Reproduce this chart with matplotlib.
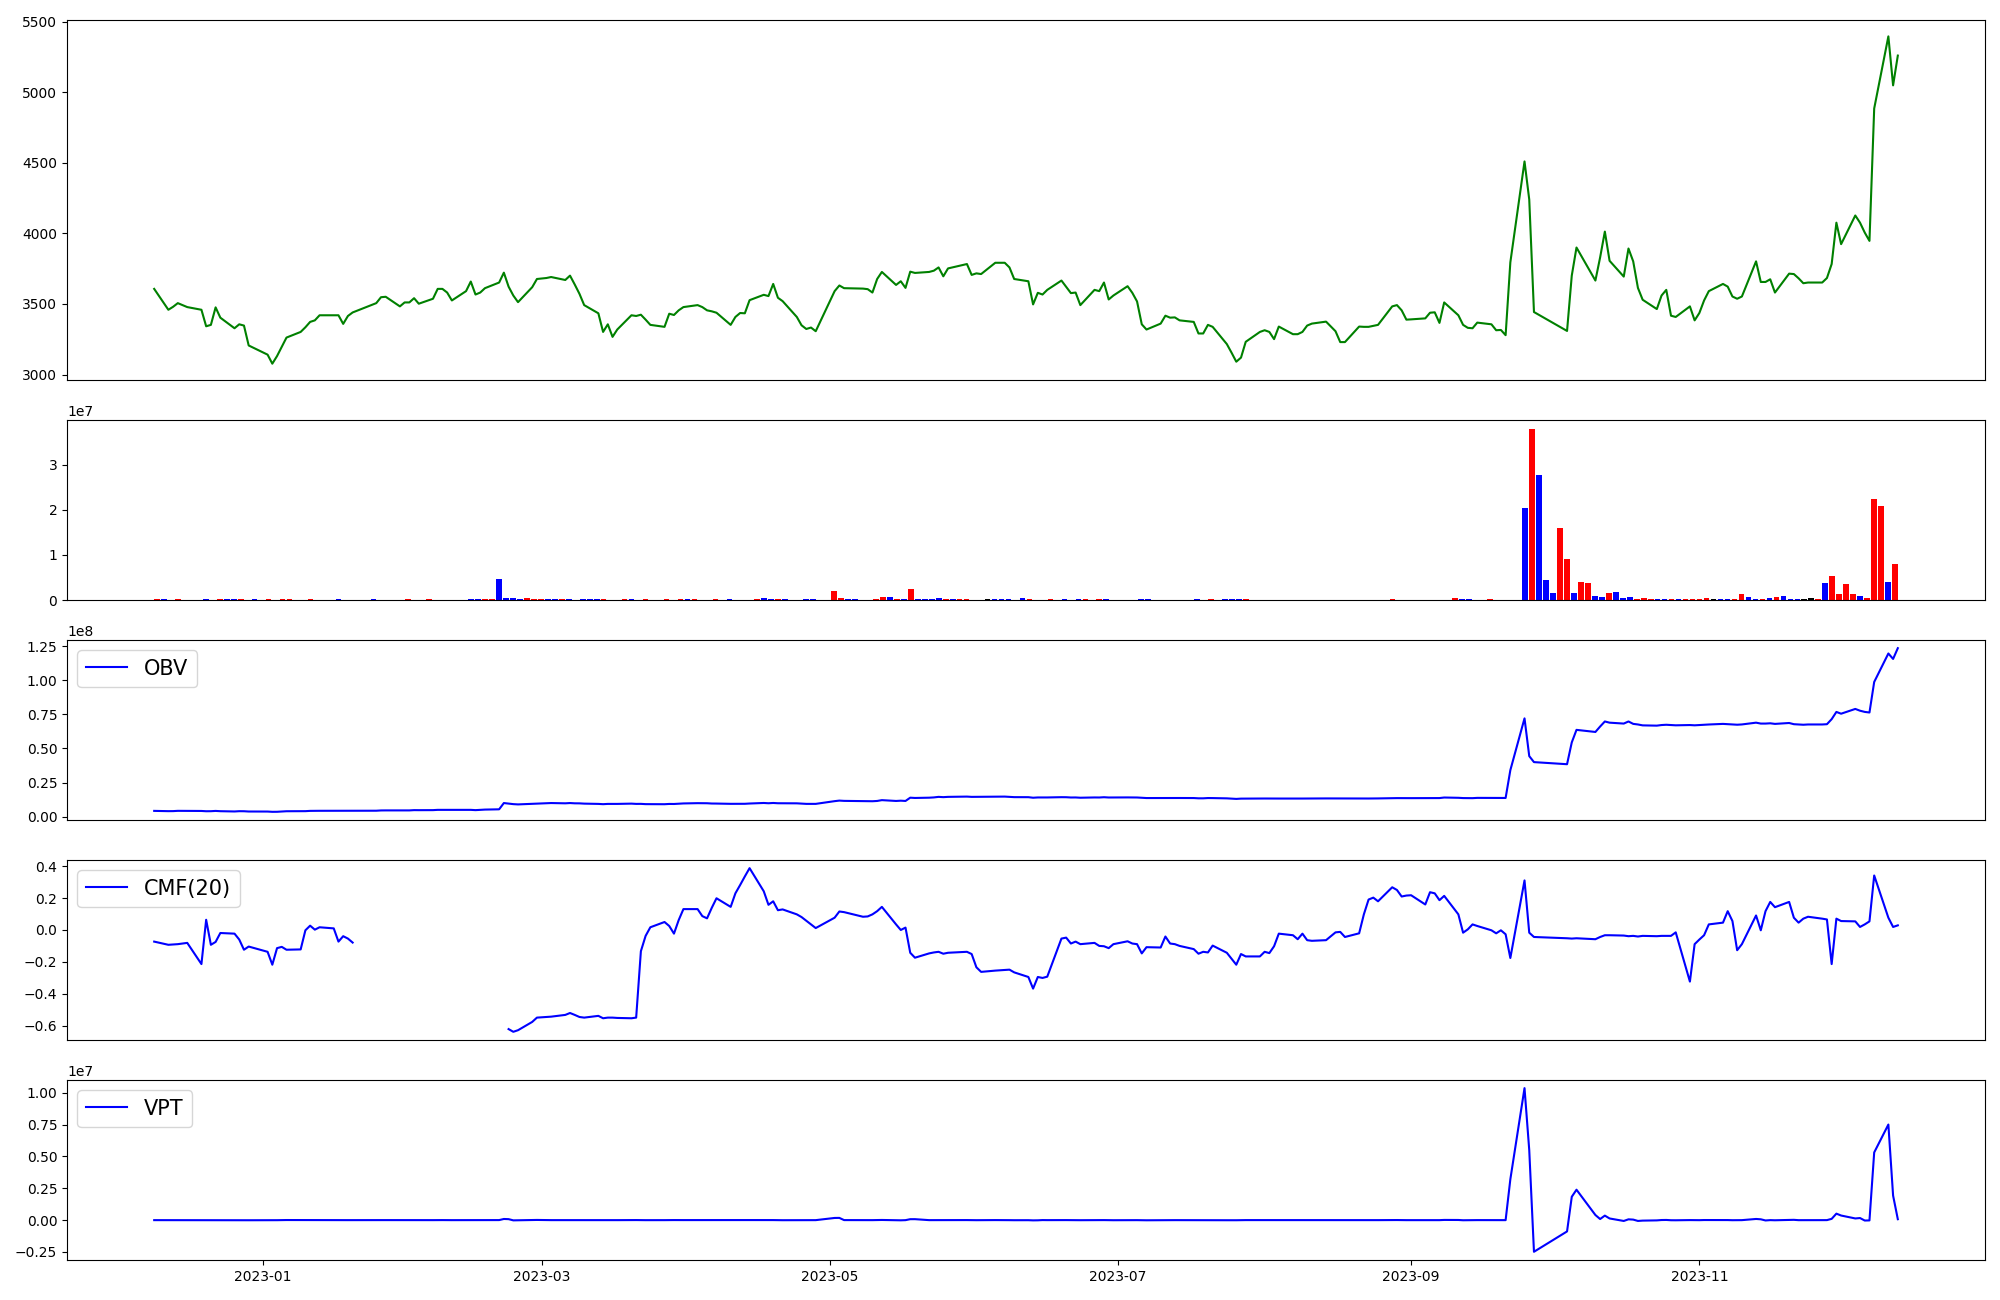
import numpy as np
import pandas as pd
import matplotlib
matplotlib.use("Agg")
import matplotlib.pyplot as plt

# ---------------- data ----------------
start_date = "2022-12-09"
end_date = "2023-12-13"
krx_holidays = ["2022-12-30", "2023-01-23", "2023-01-24", "2023-03-01", "2023-05-01",
                "2023-05-05", "2023-05-29", "2023-06-06", "2023-08-15", "2023-09-28",
                "2023-09-29", "2023-10-02", "2023-10-03", "2023-10-09"]

close = [
    3607, 3459, 3480, 3506, 3492, 3478, 3459, 3342, 3352, 3476,   # 0-9
    3403, 3328, 3356, 3347, 3206, 3141, 3077, 3131, 3197, 3262,   # 10-19
    3302, 3335, 3373, 3384, 3420, 3420, 3420, 3359, 3415, 3440,   # 20-29
    3506, 3548, 3551, 3483, 3511, 3511, 3541, 3502, 3537, 3607,   # 30-39
    3607, 3581, 3525, 3591, 3659, 3567, 3581, 3612, 3652, 3722,   # 40-49
    3623, 3560, 3513, 3619, 3677, 3684, 3691, 3670, 3701, 3638,   # 50-59
    3572, 3492, 3434, 3302, 3356, 3267, 3319, 3420, 3415, 3424,   # 60-69
    3389, 3352, 3338, 3431, 3422, 3455, 3478, 3492, 3478, 3455,   # 70-79
    3448, 3438, 3352, 3408, 3436, 3434, 3527, 3565, 3556, 3642,   # 80-89
    3544, 3520, 3408, 3349, 3323, 3333, 3307, 3591, 3631, 3612,   # 90-99
    3609, 3605, 3581, 3677, 3727, 3635, 3661, 3614, 3729, 3720,   # 100-109
    3727, 3736, 3759, 3696, 3752, 3783, 3706, 3717, 3712, 3792,   # 110-119
    3792, 3759, 3677, 3661, 3497, 3579, 3567, 3600, 3666, 3621,   # 120-129
    3577, 3581, 3492, 3600, 3591, 3652, 3532, 3560, 3626, 3579,   # 130-139
    3518, 3356, 3319, 3361, 3417, 3403, 3405, 3384, 3373, 3291,   # 140-149
    3291, 3352, 3338, 3216, 3155, 3091, 3120, 3232, 3302, 3314,   # 150-159
    3302, 3251, 3340, 3286, 3286, 3302, 3347, 3361, 3375, 3307,   # 160-169
    3230, 3230, 3340, 3338, 3338, 3345, 3352, 3483, 3492, 3455,   # 170-179
    3389, 3391, 3398, 3438, 3441, 3366, 3511, 3420, 3352, 3331,   # 180-189
    3328, 3368, 3356, 3314, 3316, 3279, 3795, 4510, 4240, 3443,   # 190-199
    3309, 3701, 3900, 3666, 3830, 4013, 3806, 3694, 3893, 3802,   # 200-209
    3614, 3530, 3464, 3560, 3600, 3417, 3408, 3483, 3384, 3436,   # 210-219
    3525, 3591, 3642, 3623, 3553, 3537, 3553, 3802, 3656, 3656,   # 220-229
    3675, 3581, 3715, 3712, 3682, 3647, 3652, 3652, 3684, 3783,   # 230-239
    4076, 3924, 4127, 4076, 4006, 3947, 4885, 5396, 5049, 5260,   # 240-249
]

# traded volume per day (tiny values = bars that are not visible)
volume = [
    2e5, 2e5, 3e4, 2e5, 3e4, 3e4, 3e4, 2e5, 3e4, 2e5,             # 0-9
    2e5, 2e5, 2e5, 3e4, 2e5, 3e4, 2e5, 3e4, 2e5, 2e5,             # 10-19
    3e4, 3e4, 2e5, 3e4, 3e4, 3e4, 2e5, 3e4, 3e4, 3e4,             # 20-29
    3e4, 2e5, 3e4, 3e4, 3e4, 3e4, 2e5, 3e4, 3e4, 2e5,             # 30-39
    3e4, 3e4, 3e4, 3e4, 3e4, 2e5, 2e5, 2e5, 2e5, 4.6e6,           # 40-49
    4e5, 4e5, 2e5, 4e5, 2e5, 2e5, 2e5, 2e5, 2e5, 2e5,             # 50-59
    3e4, 2e5, 2e5, 2e5, 2e5, 3e4, 3e4, 2e5, 2e5, 3e4,             # 60-69
    2e5, 3e4, 3e4, 2e5, 3e4, 2e5, 2e5, 2e5, 3e4, 3e4,             # 70-79
    2e5, 3e4, 2e5, 3e4, 3e4, 3e4, 2e5, 4e5, 2e5, 2e5,             # 80-89
    2e5, 3e4, 3e4, 2e5, 2e5, 3e4, 3e4, 2.0e6, 4e5, 2e5,           # 90-99
    2e5, 3e4, 3e4, 2e5, 6e5, 6e5, 2e5, 2e5, 2.4e6, 2e5,           # 100-109
    2e5, 2e5, 4e5, 2e5, 2e5, 2e5, 2e5, 3e4, 3e4, 2e5,             # 110-119
    2e5, 2e5, 2e5, 3e4, 4e5, 2e5, 3e4, 3e4, 2e5, 3e4,             # 120-129
    2e5, 3e4, 2e5, 2e5, 3e4, 2e5, 2e5, 3e4, 3e4, 3e4,             # 130-139
    3e4, 2e5, 2e5, 3e4, 3e4, 3e4, 3e4, 3e4, 3e4, 2e5,             # 140-149
    3e4, 2e5, 3e4, 2e5, 2e5, 2e5, 2e5, 3e4, 3e4, 3e4,             # 150-159
    3e4, 3e4, 3e4, 3e4, 3e4, 3e4, 3e4, 3e4, 3e4, 3e4,             # 160-169
    3e4, 3e4, 3e4, 3e4, 3e4, 3e4, 3e4, 2e5, 3e4, 3e4,             # 170-179
    3e4, 3e4, 3e4, 3e4, 3e4, 3e4, 4e5, 2e5, 2e5, 3e4,             # 180-189
    3e4, 2e5, 3e4, 3e4, 3e4, 3e4, 2.04e7, 3.80e7, 2.77e7, 4.4e6,  # 190-199
    1.54e6, 1.60e7, 9.2e6, 1.54e6, 4.0e6, 3.7e6, 8.8e5, 6.6e5, 1.54e6, 1.76e6,  # 200-209
    4.4e5, 6.6e5, 2e5, 4.4e5, 2e5, 2e5, 2e5, 2e5, 2e5, 2e5,       # 210-219
    2e5, 2e5, 4.4e5, 2e5, 2e5, 2e5, 2e5, 1.3e6, 6.6e5, 2e5,       # 220-229
    2e5, 4.4e5, 6.6e5, 8.8e5, 2e5, 2e5, 2e5, 4.4e5, 2e5, 3.7e6,   # 230-239
    5.3e6, 1.3e6, 3.5e6, 1.3e6, 8.8e5, 4.4e5, 2.24e7, 2.09e7, 4.0e6, 7.9e6,  # 240-249
]

# bar colours: r = close above open, b = close below open, k = unchanged
bar_colors = (
    "rbbrbbbbbr" "bbrbbbrbrr"   # 0-19
    "bbrbbbbbbb" "bbrbbbrbbr"   # 20-39
    "bbbbbbbrrb" "bbbrrrbbrb"   # 40-59
    "bbbbrbbrbb" "rbbrbrbrbb"   # 60-79
    "rbbbbbrbbr" "bbbbbbbrrb"   # 80-99
    "bbbrrbrbrb" "bbbrbrrbbk"   # 100-119
    "bbbbbrbbrb" "bbbrbrbbbb"   # 120-139
    "bbbbbbbbbb" "brbbbbrbbb"   # 140-159
    "bbbbbbbbbb" "bbbbbbbrbb"   # 160-179
    "bbbbbbrbbb" "brbbbbbrbb"   # 180-199
    "brrbrrbbrb" "bbrrrbbrbr"   # 200-219
    "rrrkbbrrbb" "rbrbbbkkrb"   # 220-239
    "rrrrbrrrbr"                # 240-249
)

# Chaikin money flow (20) as plotted; NaN where the window held an undefined day
cmf = [
    -0.073, -0.093, -0.091, -0.089, -0.085, -0.081, -0.214, 0.064, -0.093, -0.075,
    -0.019, -0.023, -0.060, -0.124, -0.104, -0.137, -0.218, -0.114, -0.106, -0.124,
    -0.122, -0.002, 0.027, 0.002, 0.017, 0.010, -0.073, -0.039, -0.054, -0.079,
] + [np.nan] * 20 + [
    -0.622, -0.639, -0.629, -0.577, -0.550, -0.546, -0.544, -0.533, -0.521, -0.533,   # 50-59
    -0.546, -0.550, -0.539, -0.554, -0.550, -0.550, -0.552, -0.554, -0.550, -0.133,   # 60-69
    -0.037, 0.017, 0.050, 0.025, -0.023, 0.062, 0.131, 0.131, 0.087, 0.073,           # 70-79
    0.139, 0.199, 0.145, 0.230, 0.282, 0.336, 0.388, 0.243, 0.158, 0.180,             # 80-89
    0.124, 0.129, 0.098, 0.081, 0.058, 0.035, 0.012, 0.077, 0.116, 0.112,             # 90-99
    0.083, 0.085, 0.098, 0.118, 0.145, 0.035, 0.000, 0.015, -0.143, -0.174,           # 100-109
    -0.147, -0.141, -0.137, -0.149, -0.143, -0.137, -0.151, -0.234, -0.263, -0.255,   # 110-119
    -0.251, -0.249, -0.266, -0.295, -0.368, -0.295, -0.301, -0.293, -0.054, -0.048,   # 120-129
    -0.085, -0.073, -0.089, -0.081, -0.100, -0.102, -0.114, -0.089, -0.071, -0.085,   # 130-139
    -0.089, -0.147, -0.108, -0.110, -0.041, -0.085, -0.089, -0.100, -0.120, -0.149,   # 140-149
    -0.137, -0.141, -0.098, -0.143, -0.180, -0.218, -0.151, -0.166, -0.166, -0.137,   # 150-159
    -0.145, -0.102, -0.023, -0.033, -0.058, -0.023, -0.064, -0.068, -0.064, -0.015,   # 160-169
    -0.012, -0.044, -0.021, 0.098, 0.191, 0.203, 0.180, 0.268, 0.251, 0.210,          # 170-179
    0.216, 0.218, 0.160, 0.237, 0.230, 0.187, 0.214, 0.098, -0.017, 0.004,            # 180-189
    0.035, 0.025, -0.002, -0.021, -0.002, -0.027, -0.176, 0.311, -0.017, -0.044,      # 190-199
    -0.052, -0.054, -0.052, -0.058, -0.044, -0.033, -0.033, -0.035, -0.039, -0.037,   # 200-209
    -0.041, -0.037, -0.039, -0.037, -0.037, -0.037, -0.015, -0.324, -0.089, -0.060,   # 210-219
    -0.033, 0.035, 0.046, 0.118, 0.056, -0.127, -0.089, 0.091, -0.002, 0.118,         # 220-229
    0.176, 0.143, 0.176, 0.077, 0.046, 0.071, 0.083, 0.071, 0.066, -0.214,            # 230-239
    0.071, 0.056, 0.054, 0.019, 0.035, 0.054, 0.342, 0.077, 0.019, 0.029,             # 240-249
]

obv_start = 4.2e6  # OBV level carried in from earlier history

# ---------------- derived series ----------------
dates = pd.bdate_range(start_date, end_date)
dates = dates[~dates.isin(pd.to_datetime(krx_holidays))]
close_s = pd.Series(close, index=dates, dtype=float)
vol_s = pd.Series(volume, index=dates, dtype=float)
n = len(dates)

direction = np.sign(close_s.diff()).fillna(0)
obv = obv_start + (direction * vol_s).cumsum()

vpt_raw = vol_s * close_s.pct_change()
vpt = (vpt_raw.shift(1) + vpt_raw).fillna(0)

color_map = {"r": "red", "b": "blue", "k": "black"}
colors = [color_map[c] for c in bar_colors]

# ---------------- figure ----------------
fig = plt.figure(figsize=(20, 13), dpi=100)
gs = fig.add_gridspec(5, 1, height_ratios=[2, 1, 1, 1, 1], left=0.0335, right=0.9925,
                      top=0.9846, bottom=0.0308, hspace=0.185)

ax1 = fig.add_subplot(gs[0])
ax1.plot(dates, close_s.values, color="green")
ax1.set_xticks([])

ax2 = fig.add_subplot(gs[1])
ax2.bar(np.arange(n), vol_s.values, color=colors)
ax2.set_xticks([])

ax3 = fig.add_subplot(gs[2])
ax3.plot(dates, obv.values, color="blue", label="OBV")
ax3.legend(loc="upper left", fontsize=15)
ax3.set_xticks([])

ax4 = fig.add_subplot(gs[3])
ax4.plot(dates, cmf, color="blue", label="CMF(20)")
ax4.legend(loc="upper left", fontsize=15)
ax4.set_xticks([])

ax5 = fig.add_subplot(gs[4])
ax5.plot(dates, vpt.values, color="blue", label="VPT")
ax5.legend(loc="upper left", fontsize=15)

fig.savefig("out.png", dpi=100)
